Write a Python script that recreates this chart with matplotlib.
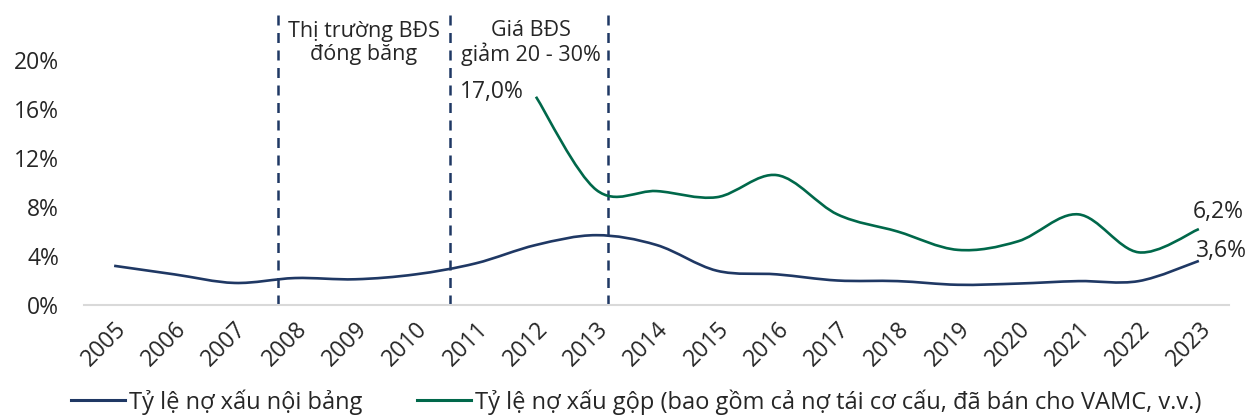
import matplotlib
matplotlib.use("Agg")
import matplotlib.pyplot as plt
from matplotlib.path import Path
from matplotlib.patches import PathPatch
from matplotlib.lines import Line2D
import numpy as np

plt.rcParams['font.family'] = ['Open Sans', 'DejaVu Sans']

years = [str(y) for y in range(2005, 2024)]
npl_on_balance = [3.2, 2.5, 1.8, 2.2, 2.1, 2.5, 3.4, 4.9, 5.7, 4.9, 2.8, 2.5,
                  2.0, 1.95, 1.65, 1.75, 1.95, 1.95, 3.6]
npl_gross_years = years[7:]
npl_gross = [17.0, 9.4, 9.3, 8.8, 10.6, 7.4, 6.0, 4.5, 5.2, 7.4, 4.3, 6.2]
period_lines = [2.72, 5.58, 8.19]
period_notes = ["Thị trường BĐS\nđóng băng", "Giá BĐS\ngiảm 20 - 30%"]
y_ticks = [0, 4, 8, 12, 16, 20]

NAVY = "#1F3864"
GREEN = "#00684A"
TEXT = "#262626"
FS = 16.5


def smooth_path(xs, ys):
    """Catmull-Rom style Bezier path through the given points."""
    pts = np.column_stack([xs, ys]).astype(float)
    n = len(pts)
    verts = [pts[0]]
    codes = [Path.MOVETO]
    for i in range(n - 1):
        p0 = pts[i - 1] if i > 0 else pts[i]
        p1 = pts[i]
        p2 = pts[i + 1]
        p3 = pts[i + 2] if i + 2 < n else pts[i + 1]
        c1 = p1 + (p2 - p0) / 6.0
        c2 = p2 - (p3 - p1) / 6.0
        verts += [c1, c2, p2]
        codes += [Path.CURVE4] * 3
    return Path(verts, codes)


fig = plt.figure(figsize=(12.47, 4.16), dpi=100)
ax = fig.add_axes([84 / 1247, 1 - 305 / 416, 1145 / 1247, 294 / 416])

x_all = np.arange(len(years))
x_gross = np.array([years.index(y) for y in npl_gross_years])

ax.add_patch(PathPatch(smooth_path(x_all, npl_on_balance), facecolor="none",
                       edgecolor=NAVY, lw=1.9, capstyle="butt", zorder=3))
ax.add_patch(PathPatch(smooth_path(x_gross, npl_gross), facecolor="none",
                       edgecolor=GREEN, lw=1.9, capstyle="butt", zorder=3))

for xv in period_lines:
    ax.axvline(xv, color=NAVY, lw=1.8, linestyle=(0, (4, 3)), zorder=2)

ax.set_xlim(-0.5, len(years) - 0.5)
ax.set_ylim(0, 24)
ax.set_xticks(x_all)
ax.set_xticklabels(years, rotation=45, ha="right", rotation_mode="anchor",
                   fontsize=FS, color=TEXT)
ax.set_yticks(y_ticks)
ax.set_yticklabels([f"{v}%" for v in y_ticks], fontsize=FS, color=TEXT)
ax.tick_params(axis="both", length=0)
ax.tick_params(axis="y", pad=18)
ax.tick_params(axis="x", pad=9)
for side in ("left", "right", "top"):
    ax.spines[side].set_visible(False)
ax.spines["bottom"].set_color("#D9D9D9")
ax.spines["bottom"].set_linewidth(1.5)

# notes for the two market periods
ax.text(4.14, 21.4, period_notes[0], ha="center", va="center", fontsize=15.5,
        color=TEXT, linespacing=1.1)
ax.text(6.91, 21.4, period_notes[1], ha="center", va="center", fontsize=15.5,
        color=TEXT, linespacing=1.1)

# value labels
ax.annotate(f"{npl_gross[0]:.1f}%".replace(".", ","), (x_gross[0], npl_gross[0]),
            xytext=(-12, 5), textcoords="offset pixels", ha="right", va="center",
            fontsize=FS, color=TEXT)
ax.annotate(f"{npl_gross[-1]:.1f}%".replace(".", ","), (x_gross[-1], npl_gross[-1]),
            xytext=(-6, 17), textcoords="offset pixels", ha="left", va="center",
            fontsize=FS, color=TEXT, annotation_clip=False)
ax.annotate(f"{npl_on_balance[-1]:.1f}%".replace(".", ","),
            (x_all[-1], npl_on_balance[-1]),
            xytext=(-3, 10), textcoords="offset pixels", ha="left", va="center",
            fontsize=FS, color=TEXT, annotation_clip=False)

handles = [Line2D([], [], color=NAVY, lw=2.2),
           Line2D([], [], color=GREEN, lw=2.2)]
labels = ["Tỷ lệ nợ xấu nội bảng",
          "Tỷ lệ nợ xấu gộp (bao gồm cả nợ tái cơ cấu, đã bán cho VAMC, v.v.)"]
fig.legend(handles, labels, loc="center", bbox_to_anchor=(636 / 1247, 1 - 402 / 416),
           ncol=2, frameon=False, fontsize=17, handlelength=2.3,
           handletextpad=0.15, columnspacing=2.3, labelcolor=TEXT,
           borderaxespad=0, borderpad=0)

fig.savefig("out.png", dpi=100)
